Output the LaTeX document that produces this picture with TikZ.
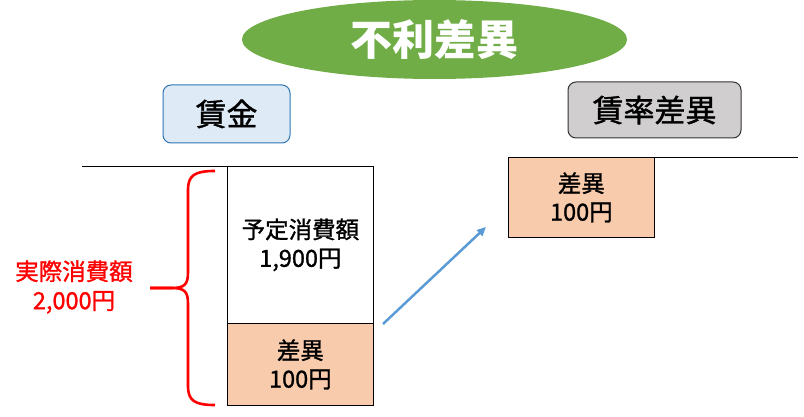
\documentclass[tikz,border=0pt]{standalone}
\usepackage{fontspec}
\setmainfont{Noto Sans CJK JP}[UprightFeatures={FakeBold=1.2}]
\usetikzlibrary{arrows.meta,shapes.geometric}
\definecolor{midori}{HTML}{70AD47}
\definecolor{usuao}{HTML}{DEEBF7}
\definecolor{aowaku}{HTML}{2E75B6}
\definecolor{hai}{HTML}{D0CECE}
\definecolor{daidai}{HTML}{F8CBAD}
\definecolor{yajirushi}{HTML}{5B9BD5}

\begin{document}
\begin{tikzpicture}[x=1pt,y=-1pt,
  daimei/.style={ellipse,fill=midori,text=white,minimum width=385,minimum height=79,
    font=\fontsize{42}{46}\selectfont\bfseries},
  kamoku/.style={rounded corners=8pt,line width=1pt,inner sep=0pt,
    font=\fontsize{31}{34}\selectfont},
  waku/.style={draw,line width=0.8pt,anchor=north west,inner sep=0pt,align=center,
    minimum width=146,font=\fontsize{23.5}{28.5}\selectfont},
  sabun/.style={waku,fill=daidai}]
\useasboundingbox (0,0) rectangle (804,417);
\node[daimei] (furi) at (434.5,39.5) {不利差異};
\node[kamoku,draw=aowaku,fill=usuao,minimum width=127,minimum height=58] (chingin) at (226.5,114) {賃金};
\node[kamoku,draw=black!80,fill=hai,minimum width=173,minimum height=56] (chinritsu) at (654.5,110) {賃率差異};
% T勘定（賃金）
\node[waku,minimum height=157] (yotei) at (227,166) {予定消費額\\1,900円};
\node[sabun,minimum height=82] (sai) at (227,323) {差異\\100円};
\draw[line width=0.8pt] (82,166) -- (yotei.north west);
% T勘定（賃率差異）
\node[sabun,minimum height=80] (sai2) at (508,157) {差異\\100円};
\draw[line width=0.8pt] (sai2.north east) -- (798,157);
% 実際消費額
\node[text=red,align=center,font=\fontsize{23.5}{29}\selectfont] (jissai) at (74,287) {実際消費額\\2,000円};
\draw[red,line width=2.6pt] (215,171) .. controls (195,171) and (188,175) .. (188,190) -- (188,272)
  .. controls (188,284) and (185,288) .. (172,288) -- (150,288);
\draw[red,line width=2.6pt] (215,405) .. controls (195,405) and (188,401) .. (188,386) -- (188,304)
  .. controls (188,292) and (185,288) .. (172,288) -- (150,288);
\coordinate (moto) at (383,324);
\coordinate (saki) at (486,227);
\draw[yajirushi,line width=2.5pt,-{Triangle[length=9pt,width=8pt]}] (moto) -- (saki);
\end{tikzpicture}
\end{document}
